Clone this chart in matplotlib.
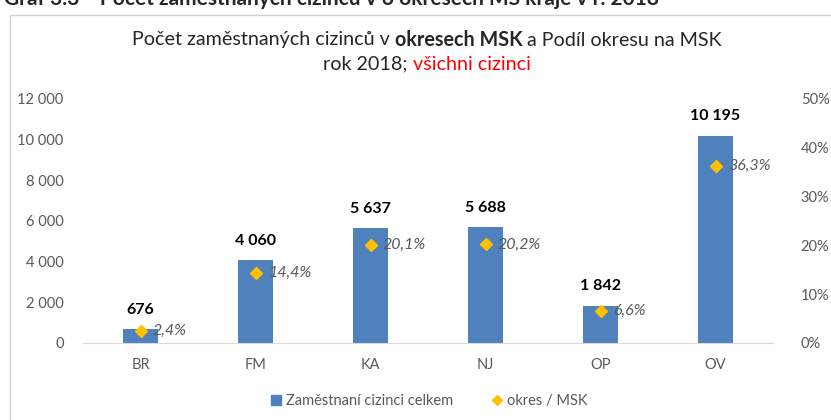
"""
Počet zaměstnaných cizinců v okresech MSK, rok 2018
"""
import matplotlib
matplotlib.use('Agg')
import matplotlib.pyplot as plt
import matplotlib.patches as patches
from matplotlib.lines import Line2D
import numpy as np

# Data
okresy = ['BR', 'FM', 'KA', 'NJ', 'OP', 'OV']
zamestnani = [676, 4060, 5637, 5688, 1842, 10195]
podil = [2.4, 14.4, 20.1, 20.2, 6.6, 36.3]
left_ticks = [0, 2000, 4000, 6000, 8000, 10000, 12000]
right_ticks = [0, 10, 20, 30, 40, 50]

BLUE = '#4f81bd'
GOLD = '#ffc000'
GRAY = '#595959'
FONT = ['Lato', 'DejaVu Sans']

plt.rcParams['font.family'] = FONT


def fmt_num(v):
    return f'{v:,}'.replace(',', ' ')


fig = plt.figure(figsize=(8.31, 4.20), dpi=100)
fig.patch.set_facecolor('white')

# outer chart frame
frame = patches.Rectangle((10 / 831, -0.05), 1.0, 1 - 15 / 420 + 0.05,
                          transform=fig.transFigure, fill=False,
                          edgecolor='#d0d0d0', linewidth=1.0)
fig.patches.append(frame)

# clipped heading from the page above the chart
fig.text(4 / 831, 1 - 5 / 420, 'Graf 3.3    Počet zaměstnaných cizinců v 6 okresech MS kraje v r. 2018',
         fontsize=15, fontweight='bold', color='#262626', va='baseline', ha='left')

ax = fig.add_axes([83 / 831, 77 / 420, 690 / 831, 244 / 420])
x = np.arange(len(okresy))
bars = ax.bar(x, zamestnani, width=0.31, color=BLUE, zorder=2)
ax.set_xlim(-0.5, len(okresy) - 0.5)
ax.set_ylim(0, 12000)
ax.set_yticks(left_ticks)
ax.set_yticklabels([fmt_num(t) for t in left_ticks])
ax.set_xticks(x)
ax.set_xticklabels(okresy)
ax.tick_params(axis='both', length=0, colors=GRAY, labelsize=10.5)
ax.tick_params(axis='y', pad=14)
ax.tick_params(axis='x', pad=11)
for s in ['top', 'right', 'left']:
    ax.spines[s].set_visible(False)
ax.spines['bottom'].set_color('#d9d9d9')

for xi, v in zip(x, zamestnani):
    ax.annotate(fmt_num(v), (xi, v), xytext=(0, 9), textcoords='offset points',
                ha='center', va='bottom', fontsize=11.5, fontweight='bold', color='black')

ax2 = ax.twinx()
ax2.set_ylim(0, 50)
ax2.set_yticks(right_ticks)
ax2.set_yticklabels([f'{t}%' for t in right_ticks])
ax2.tick_params(axis='y', length=0, colors=GRAY, labelsize=10.5, pad=20)
for s in ax2.spines.values():
    s.set_visible(False)
ax2.plot(x, podil, linestyle='none', marker='D', markersize=6.5, color=GOLD, zorder=3)
for xi, p in zip(x, podil):
    ax2.annotate(f'{p:.1f}%'.replace('.', ','), (xi, p), xytext=(9, 0), textcoords='offset points',
                 ha='left', va='center', fontsize=11.5, fontstyle='italic', color=GRAY)

# title with mixed styles
renderer = fig.canvas.get_renderer()


def rich_line(parts, y, size=14.2):
    texts = [fig.text(0, y, s, fontsize=size, fontweight=w, color=c, va='center', ha='left')
             for s, w, c in parts]
    widths = [t.get_window_extent(renderer).width for t in texts]
    total = sum(widths)
    start = (427 / 831) * fig.bbox.width - total / 2
    for t, w in zip(texts, widths):
        t.set_x(start / fig.bbox.width)
        start += w


rich_line([('Počet zaměstnaných cizinců v ', 'normal', '#262626'),
           ('okresech MSK', 'bold', '#262626'),
           (' a Podíl okresu na MSK', 'normal', '#262626')], 1 - 40 / 420)
rich_line([('rok 2018; ', 'normal', '#262626'),
           ('všichni cizinci', 'normal', '#ff0000')], 1 - 64 / 420)

handles = [Line2D([], [], linestyle='none', marker='s', markersize=7, color=BLUE),
           Line2D([], [], linestyle='none', marker='D', markersize=5, color=GOLD)]
fig.legend(handles, ['Zaměstnaní cizinci celkem', 'okres / MSK'], loc='center',
           bbox_to_anchor=(428 / 831, 1 - 401 / 420), ncol=2, frameon=False,
           fontsize=10.5, labelcolor=GRAY, handletextpad=0.2, columnspacing=2.5,
           handlelength=1.0)

plt.savefig('out.png', dpi=100, facecolor='white')
plt.close()
